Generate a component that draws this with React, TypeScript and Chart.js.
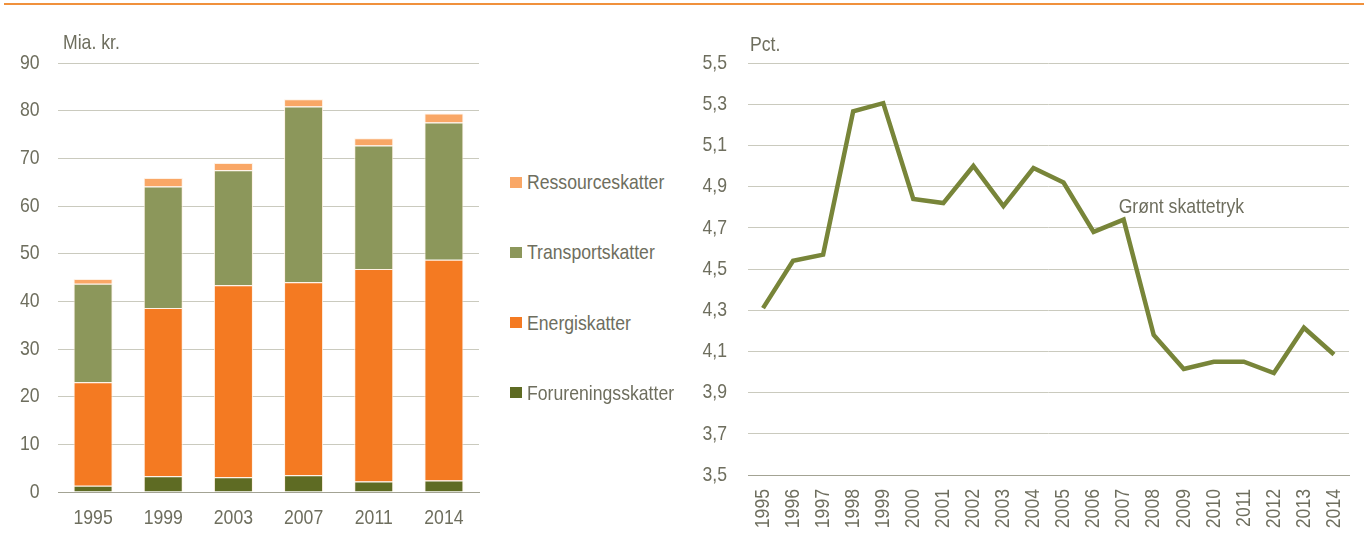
import React, { useEffect, useRef } from 'react';
import { Chart, registerables } from 'chart.js';

Chart.register(...registerables);

// ---------- Data ----------
const barYears = ['1995', '1999', '2003', '2007', '2011', '2014'];
const forureningsskatter = [1.3, 3.3, 3.1, 3.5, 2.2, 2.4];
const energiskatter = [21.7, 35.3, 40.3, 40.5, 44.6, 46.3];
const transportskatter = [20.7, 25.5, 24.1, 36.9, 25.9, 28.8];
const ressourceskatter = [1.0, 1.8, 1.5, 1.5, 1.5, 1.9];
const barTickValues = [0, 10, 20, 30, 40, 50, 60, 70, 80, 90];

const lineYears = [
  '1995', '1996', '1997', '1998', '1999', '2000', '2001', '2002', '2003', '2004',
  '2005', '2006', '2007', '2008', '2009', '2010', '2011', '2012', '2013', '2014',
];
const grontSkattetryk = [
  4.31, 4.54, 4.57, 5.265, 5.305, 4.84, 4.82, 5.0, 4.805, 4.99,
  4.92, 4.68, 4.74, 4.18, 4.015, 4.05, 4.05, 3.995, 4.215, 4.085,
];
const lineTickValues = [3.5, 3.7, 3.9, 4.1, 4.3, 4.5, 4.7, 4.9, 5.1, 5.3, 5.5];

// ---------- Styles ----------
const FONT = "'Liberation Sans', Arial, sans-serif";
const SIZE = 21;
const NARROW = 0.84;
const TEXT = '#6E6E5E';
const GRID = '#CACABE';
const AXIS = '#A3A394';
const C_RES = '#F9A766';
const C_TRA = '#8C975B';
const C_ENE = '#F47A22';
const C_FOR = '#5E6B23';
const C_LINE = '#788539';

function drawNarrow(ctx: CanvasRenderingContext2D, text: string, x: number, y: number, align: CanvasTextAlign, rot: number) {
  ctx.save();
  ctx.translate(x, y);
  if (rot) ctx.rotate(rot);
  ctx.scale(NARROW, 1);
  ctx.textAlign = align;
  ctx.textBaseline = 'middle';
  ctx.fillText(text, 0, 0);
  ctx.restore();
}

const textPlugin = {
  id: 'texts',
  afterDraw(chart: any, _args: any, opts: any) {
    const ctx = chart.ctx as CanvasRenderingContext2D;
    const xs = chart.scales.x;
    const ys = chart.scales.y;
    ctx.save();
    ctx.fillStyle = TEXT;
    ctx.font = `${SIZE}px ${FONT}`;
    // y tick labels
    (opts.yValues || []).forEach((v: number) => {
      drawNarrow(ctx, opts.yFormat(v), ys.right - opts.yPad, ys.getPixelForValue(v), 'right', 0);
    });
    // x tick labels
    (opts.xLabels || []).forEach((l: string, i: number) => {
      const x = xs.getPixelForValue(i);
      if (opts.rotate) drawNarrow(ctx, l, x, xs.top + opts.xPad, 'right', -Math.PI / 2);
      else drawNarrow(ctx, l, x, xs.top + opts.xPad, 'center', 0);
    });
    // free texts
    (opts.items || []).forEach((it: any) => {
      let x: number;
      let y: number;
      if (it.xValue !== undefined) {
        x = xs.getPixelForValue(it.xValue) + it.dx;
        y = ys.getPixelForValue(it.yValue);
      } else {
        x = chart.chartArea.left + it.dx;
        y = chart.chartArea.top + it.dy;
      }
      drawNarrow(ctx, it.text, x, y, 'left', 0);
    });
    ctx.restore();
  },
};

function BarChart() {
  const ref = useRef<HTMLCanvasElement>(null);
  useEffect(() => {
    const chart = new Chart(ref.current as HTMLCanvasElement, {
      type: 'bar',
      data: {
        labels: barYears,
        datasets: [
          { label: 'Forureningsskatter', data: forureningsskatter, backgroundColor: C_FOR },
          { label: 'Energiskatter', data: energiskatter, backgroundColor: C_ENE },
          { label: 'Transportskatter', data: transportskatter, backgroundColor: C_TRA },
          { label: 'Ressourceskatter', data: ressourceskatter, backgroundColor: C_RES },
        ].map((d) => ({
          ...d,
          borderColor: 'rgba(255,240,225,0.9)',
          borderWidth: 1,
          barPercentage: 0.556,
          categoryPercentage: 1,
        })),
      },
      plugins: [textPlugin],
      options: {
        animation: false,
        responsive: false,
        layout: { padding: { top: 63, right: 11, left: 0, bottom: 0 } },
        plugins: {
          legend: { display: false },
          tooltip: { enabled: false },
          texts: {
            yValues: barTickValues,
            yFormat: (v: number) => String(v),
            yPad: 18.5,
            xLabels: barYears,
            xPad: 26,
            rotate: false,
            items: [{ text: 'Mia. kr.', dx: 5, dy: -20 }],
          },
        } as any,
        scales: {
          x: {
            stacked: true,
            grid: { display: false, drawTicks: false },
            border: { display: true, color: AXIS, width: 1 },
            ticks: { display: false },
            afterFit: (s: any) => { s.height = 47; },
          },
          y: {
            stacked: true,
            min: 0,
            max: 90,
            grid: { color: GRID, drawTicks: false, lineWidth: 1 },
            border: { display: false },
            afterBuildTicks: (s: any) => { s.ticks = barTickValues.map((v) => ({ value: v })); },
            ticks: { display: false },
            afterFit: (s: any) => { s.width = 58; },
          },
        },
      },
    });
    return () => chart.destroy();
  }, []);
  return <canvas ref={ref} width={490} height={539} style={{ position: 'absolute', left: 0, top: 0 }} />;
}

function LineChart() {
  const ref = useRef<HTMLCanvasElement>(null);
  useEffect(() => {
    const chart = new Chart(ref.current as HTMLCanvasElement, {
      type: 'line',
      data: {
        labels: lineYears,
        datasets: [
          {
            label: 'Grønt skattetryk',
            data: grontSkattetryk,
            borderColor: C_LINE,
            borderWidth: 4.5,
            pointRadius: 0,
            tension: 0,
            fill: false,
          },
        ],
      },
      plugins: [textPlugin],
      options: {
        animation: false,
        responsive: false,
        layout: { padding: { top: 63, right: 15, left: 0, bottom: 0 } },
        plugins: {
          legend: { display: false },
          tooltip: { enabled: false },
          texts: {
            yValues: lineTickValues,
            yFormat: (v: number) => v.toFixed(1).replace('.', ','),
            yPad: 21,
            xLabels: lineYears,
            xPad: 14,
            rotate: true,
            items: [
              { text: 'Pct.', dx: 2, dy: -18 },
              { text: 'Grønt skattetryk', xValue: 12, yValue: 4.8, dx: -5 },
            ],
          },
        } as any,
        scales: {
          x: {
            offset: true,
            grid: { display: false, drawTicks: false },
            border: { display: true, color: AXIS, width: 1 },
            ticks: { display: false },
            afterFit: (s: any) => { s.height = 64; },
          },
          y: {
            min: 3.5,
            max: 5.5,
            grid: { color: GRID, drawTicks: false, lineWidth: 1 },
            border: { display: false },
            afterBuildTicks: (s: any) => { s.ticks = lineTickValues.map((v) => ({ value: v })); },
            ticks: { display: false },
            afterFit: (s: any) => { s.width = 58; },
          },
        },
      },
    });
    return () => chart.destroy();
  }, []);
  return <canvas ref={ref} width={674} height={539} style={{ position: 'absolute', left: 690, top: 0 }} />;
}

const legendItems = [
  { label: 'Ressourceskatter', color: C_RES },
  { label: 'Transportskatter', color: C_TRA },
  { label: 'Energiskatter', color: C_ENE },
  { label: 'Forureningsskatter', color: C_FOR },
];

export default function App() {
  return (
    <div style={{ position: 'fixed', left: 0, top: 0, width: 1364, height: 539, background: '#fff', overflow: 'hidden' }}>
      <div style={{ position: 'absolute', left: 4, right: 0, top: 3, height: 2, background: '#F0913C' }} />
      <BarChart />
      <LineChart />
      {legendItems.map((it, i) => (
        <div
          key={it.label}
          style={{
            position: 'absolute',
            left: 510,
            top: 182 + i * 70.3 - 12,
            height: 24,
            display: 'flex',
            alignItems: 'center',
            fontFamily: FONT,
            fontSize: SIZE,
            color: TEXT,
            whiteSpace: 'nowrap',
          }}
        >
          <span style={{ display: 'inline-block', width: 12, height: 11, background: it.color, marginRight: 5 }} />
          <span style={{ display: 'inline-block', transform: `scaleX(${NARROW})`, transformOrigin: 'left center' }}>{it.label}</span>
        </div>
      ))}
    </div>
  );
}
